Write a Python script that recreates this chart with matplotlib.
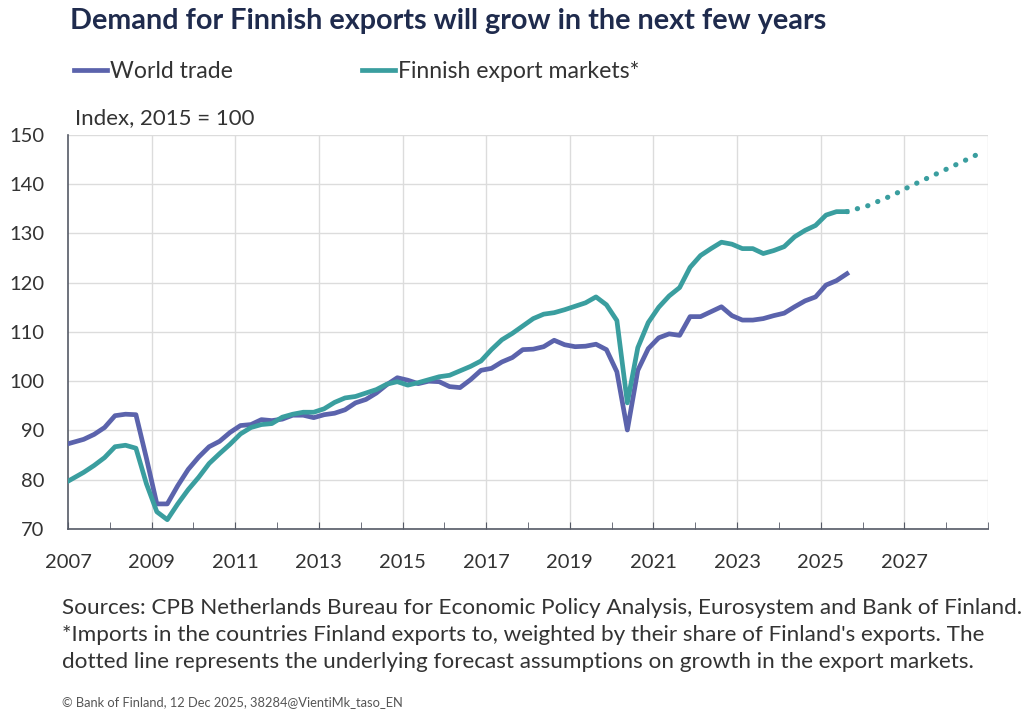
import numpy as np
import matplotlib.pyplot as plt
from matplotlib.lines import Line2D

plt.rcParams['font.family'] = ['Lato', 'DejaVu Sans']

# quarterly data, index 2015 = 100
quarters = ['2006Q4'] + [f'{y}Q{q}' for y in range(2007, 2026) for q in range(1, 5)][:-1]

world_trade = [
    87.0,
    87.6, 88.2, 89.2, 90.6,
    93.0, 93.3, 93.2, 84.4,
    75.1, 75.1, 78.8, 82.1,
    84.6, 86.7, 87.8, 89.6,
    91.0, 91.2, 92.2, 92.0,
    92.3, 93.1, 93.1, 92.6,
    93.2, 93.5, 94.2, 95.6,
    96.3, 97.6, 99.3, 100.7,
    100.2, 99.5, 100.0, 99.9,
    98.9, 98.7, 100.3, 102.2,
    102.6, 103.9, 104.8, 106.4,
    106.5, 107.0, 108.3, 107.4,
    107.0, 107.1, 107.5, 106.4,
    101.9, 90.1, 102.2, 106.6,
    108.8, 109.6, 109.3, 113.1,
    113.1, 114.1, 115.1, 113.3,
    112.4, 112.4, 112.7, 113.3,
    113.8, 115.1, 116.3, 117.1,
    119.5, 120.4, 121.8,
]

export_markets = [
    79.1,
    80.3, 81.5, 82.9, 84.5,
    86.7, 87.0, 86.4, 79.2,
    73.5, 71.9, 75.1, 78.0,
    80.5, 83.3, 85.3, 87.2,
    89.3, 90.6, 91.2, 91.4,
    92.7, 93.3, 93.7, 93.7,
    94.4, 95.7, 96.6, 96.9,
    97.6, 98.3, 99.4, 99.9,
    99.2, 99.7, 100.3, 100.9,
    101.2, 102.1, 103.0, 104.1,
    106.4, 108.4, 109.7, 111.2,
    112.7, 113.6, 113.9, 114.5,
    115.2, 115.9, 117.1, 115.5,
    112.3, 95.6, 106.8, 111.9,
    115.0, 117.3, 119.0, 123.1,
    125.5, 126.9, 128.2, 127.8,
    126.9, 126.9, 125.9, 126.5,
    127.3, 129.3, 130.6, 131.6,
    133.7, 134.4, 134.4,
]

fc_quarters = ['2025Q3', '2025Q4'] + [f'{y}Q{q}' for y in range(2026, 2029) for q in range(1, 5)]
fc_markets = [134.4, 135.0, 135.6, 136.5, 137.4, 138.4, 139.5, 140.5,
              141.5, 142.5, 143.5, 144.5, 145.5, 146.6]


def qpos(lbl):
    # plot each quarter at its mid-point
    return int(lbl[:4]) + (int(lbl[-1]) - 0.5) / 4


x = np.array([qpos(q) for q in quarters])
xf = np.array([qpos(q) for q in fc_quarters])

c_world = '#5B63AC'
c_fin = '#3A9E9F'
c_text = '#333333'

fig = plt.figure(figsize=(10.33, 7.13), dpi=100)
fig.patch.set_facecolor('white')
ax = fig.add_axes([0.0658, 0.258, 0.8907, 0.553])

ax.plot(x, world_trade, color=c_world, lw=3.4, solid_joinstyle='round', zorder=4)
ax.plot(x, export_markets, color=c_fin, lw=3.4, solid_joinstyle='round', zorder=4)
ax.plot(xf, fc_markets, color=c_fin, lw=3.7, linestyle=(0, (0.05, 2.05)),
        dash_capstyle='round', zorder=4)

ax.set_xlim(2007, 2029)
ax.set_ylim(70, 150)
ax.set_yticks(range(70, 151, 10))
ax.set_xticks(range(2007, 2029, 2))
ax.set_xticks(range(2007, 2030), minor=True)
ax.set_xticklabels([str(y) for y in range(2007, 2029, 2)])

ax.grid(axis='y', color='#dcdcdc', lw=1.0)
for yr in range(2009, 2030, 2):
    ax.axvline(yr, color='#dcdcdc', lw=1.0, zorder=0)
ax.set_axisbelow(True)

for s in ['top', 'right']:
    ax.spines[s].set_visible(False)
ax.spines['left'].set_color('#555a66')
ax.spines['bottom'].set_color('#555a66')
ax.spines['left'].set_linewidth(1.2)
ax.spines['bottom'].set_linewidth(1.2)

ax.tick_params(axis='y', length=0, labelsize=14.5, labelcolor=c_text, pad=17)
ax.tick_params(axis='x', which='both', direction='in', length=5, color='#555a66',
               labelsize=14.5, labelcolor=c_text, pad=18)

fig.text(0.068, 0.971, 'Demand for Finnish exports will grow in the next few years',
         fontsize=20.7, fontweight='bold', color='#1f2b4d', va='center', ha='left')

handles = [Line2D([0], [0], color=c_world, lw=3.4),
           Line2D([0], [0], color=c_fin, lw=3.4)]
fig.legend(handles, ['World trade', 'Finnish export markets*'],
           loc='center left', bbox_to_anchor=(0.052, 0.9), ncol=2,
           frameon=False, fontsize=16.6, handlelength=1.43, handletextpad=0.13,
           columnspacing=5.6, labelcolor=c_text)

fig.text(0.073, 0.834, 'Index, 2015 = 100', fontsize=16, color=c_text,
         va='center', ha='left')

notes = ("Sources: CPB Netherlands Bureau for Economic Policy Analysis, Eurosystem and Bank of Finland.\n"
         "*Imports in the countries Finland exports to, weighted by their share of Finland's exports. The\n"
         "dotted line represents the underlying forecast assumptions on growth in the export markets.")
fig.text(0.06, 0.1094, notes, fontsize=16.2, color=c_text, va='center', ha='left',
         linespacing=1.45)

fig.text(0.06, 0.0154, '\u00a9 Bank of Finland, 12 Dec 2025, 38284@VientiMk_taso_EN',
         fontsize=9.3, color='#555555', va='center', ha='left')

fig.savefig('out.png', dpi=100, facecolor='white')
